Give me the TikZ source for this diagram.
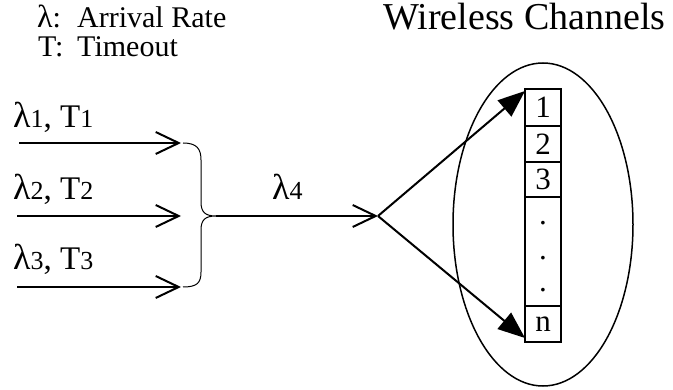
\documentclass[tikz,border=0pt]{standalone}
\usepackage{fontspec}
\setmainfont{Liberation Serif}
\usetikzlibrary{arrows.meta,shapes.geometric}

% lambda glyph and the small index digits of the stream labels
\newcommand{\lam}{{\fontsize{36pt}{36pt}\selectfont λ}}
\newcommand{\idx}[1]{{\fontsize{26pt}{26pt}\selectfont #1}}

\tikzset{
  labeltext/.style={font=\fontsize{33pt}{33pt}\selectfont, inner sep=0pt, anchor=base west},
  legendtext/.style={font=\fontsize{30pt}{30pt}\selectfont, inner sep=0pt, anchor=base west},
  titletext/.style={font=\fontsize{38pt}{38pt}\selectfont, inner sep=0pt, anchor=base west},
  flow/.style={line width=2pt, -{Straight Barb[length=23pt,width=22pt,line width=2pt]}},
  split/.style={line width=2pt, -{Triangle[length=27pt,width=21pt]}},
  bracepath/.style={line width=1pt},
  chan/.style={draw, line width=1.5pt, minimum width=36pt, inner sep=0pt,
               font=\fontsize{31pt}{31pt}\selectfont},
  dotmark/.style={font=\fontsize{31pt}{31pt}\selectfont, inner sep=0pt, anchor=base},
}

\begin{document}
\begin{tikzpicture}[x=1pt, y=-1pt]
  \useasboundingbox (0,0) rectangle (673,390);

  % legend and title
  \node[legendtext] (leg1) at (37,28) {\makebox[40pt][l]{{\fontsize{32pt}{32pt}\selectfont λ}:}Arrival Rate};
  \node[legendtext] (leg2) at (38,57) {\makebox[39pt][l]{T:}Timeout};
  \node[titletext] (title) at (383,30) {Wireless Channels};

  % incoming streams
  \coordinate (s1) at (19,143);
  \coordinate (s2) at (17,216);
  \coordinate (s3) at (17,287);
  \coordinate (e1) at (181,143);
  \coordinate (e2) at (181,216);
  \coordinate (e3) at (181,287);
  \node[labeltext] (l1) at (13,128) {\lam\idx{1}, T\idx{1}};
  \node[labeltext] (l2) at (13,200) {\lam\idx{2}, T\idx{2}};
  \node[labeltext] (l3) at (13,270) {\lam\idx{3}, T\idx{3}};
  \draw[flow] (s1) -- (e1);
  \draw[flow] (s2) -- (e2);
  \draw[flow] (s3) -- (e3);

  % brace merging the streams
  \coordinate (btop) at (183,143);
  \coordinate (bmid) at (216,216);
  \coordinate (bbot) at (183,287);
  \draw[bracepath] (btop) .. controls (197,143) and (201,149) .. (201,160)
    -- (201,202) .. controls (201,212) and (205,216) .. (bmid)
    .. controls (205,216) and (201,220) .. (201,230)
    -- (201,272) .. controls (201,283) and (197,287) .. (bbot);

  % aggregated stream
  \coordinate (hub) at (378,216);
  \node[labeltext] (l4) at (272,200) {\lam\idx{4}};
  \draw[flow] (bmid) -- (hub);

  % channel group
  \node[draw, ellipse, line width=1.5pt, minimum width=180pt, minimum height=323pt,
        inner sep=0pt] (group) at (543,224.5) {};
  \node[chan, minimum height=37pt] (c1) at (543,107.5) {1};
  \node[chan, minimum height=36pt] (c2) at (543,144) {2};
  \node[chan, minimum height=35pt] (c3) at (543,179.5) {3};
  \node[chan, minimum height=109pt] (cdots) at (543,251.5) {};
  \node[chan, minimum height=36pt] (cn) at (543,324) {n};
  \node[dotmark] (d1) at (543,225) {.};
  \node[dotmark] (d2) at (543,260) {.};
  \node[dotmark] (d3) at (543,292) {.};

  % dispatch to first and last channel
  \coordinate (ttop) at (525,91);
  \coordinate (tbot) at (525,338);
  \draw[split] (hub) -- (ttop);
  \draw[split] (hub) -- (tbot);
\end{tikzpicture}
\end{document}
